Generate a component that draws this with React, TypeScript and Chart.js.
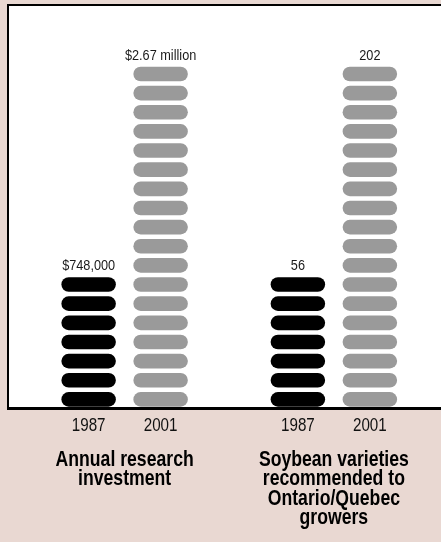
import React, { useEffect, useRef } from "react";
import { Chart, registerables } from "chart.js";

Chart.register(...registerables);

// Groups shown along the bottom, each with its two years
const GROUP_TITLES: string[][] = [
  ["Annual research", "investment"],
  ["Soybean varieties", "recommended to", "Ontario/Quebec", "growers"],
];
const YEARS = ["1987", "2001"];

// Series values (1987, 2001)
const RESEARCH_INVESTMENT = [748000, 2670000]; // dollars per year
const SOYBEAN_VARIETIES = [56, 202]; // recommended varieties

// Printed value labels
const INVESTMENT_LABELS = ["$748,000", "$2.67 million"];
const VARIETY_LABELS = ["56", "202"];

// Pictogram: the 1987 and 2001 stacks hold this many pills; the panel holds SLOTS
const STACK_PILLS = [7, 18];
const SLOTS = 21;

const YEAR_COLORS = ["#000000", "#9a9a9a"];
const PAGE_BG = "#e9d8d2";
const FONT = '"Liberation Sans", Arial, sans-serif';
const NARROW = 0.82;

// Value-axis range that makes each stack land on its pill count
function axisRange(values: number[]) {
  const unit = (values[1] - values[0]) / (STACK_PILLS[1] - STACK_PILLS[0]);
  const min = values[0] - STACK_PILLS[0] * unit;
  return { min, max: min + SLOTS * unit };
}

function narrowText(
  ctx: CanvasRenderingContext2D,
  text: string,
  x: number,
  y: number,
  size: number,
  bold: boolean,
  color: string
) {
  ctx.save();
  ctx.translate(x, y);
  ctx.scale(NARROW, 1);
  ctx.font = `${bold ? "bold " : ""}${size}px ${FONT}`;
  ctx.fillStyle = color;
  ctx.textAlign = "center";
  ctx.textBaseline = "alphabetic";
  ctx.fillText(text, 0, 0);
  ctx.restore();
}

function pill(ctx: CanvasRenderingContext2D, x: number, y: number, w: number, h: number) {
  const r = h / 2;
  ctx.beginPath();
  ctx.moveTo(x + r, y);
  ctx.lineTo(x + w - r, y);
  ctx.arc(x + w - r, y + r, r, -Math.PI / 2, Math.PI / 2);
  ctx.lineTo(x + r, y + h);
  ctx.arc(x + r, y + r, r, Math.PI / 2, (3 * Math.PI) / 2);
  ctx.closePath();
  ctx.fill();
}

const pictogramPlugin = {
  id: "pictogram",
  beforeDraw(chart: any) {
    const { ctx, chartArea: a } = chart;
    const left = a.left - 13;
    const right = chart.width;
    ctx.save();
    ctx.fillStyle = "#ffffff";
    ctx.fillRect(left, a.top - 1, right - left, a.bottom - a.top + 1);
    ctx.fillStyle = "#000000";
    ctx.fillRect(left, a.top - 1, right - left, 2);
    ctx.fillRect(left, a.top - 1, 2, a.bottom - a.top + 1);
    ctx.restore();
  },
  beforeDatasetsDraw(chart: any) {
    const { ctx, chartArea: a } = chart;
    const pitch = (a.bottom - a.top) / SLOTS;
    const pillH = pitch * 0.765;
    ctx.save();
    chart.data.datasets.forEach((ds: any, di: number) => {
      const meta = chart.getDatasetMeta(di);
      meta.data.forEach((el: any, i: number) => {
        if (ds.data[i] == null) return;
        const { x, y, base, width } = el.getProps(["x", "y", "base", "width"], true);
        const count = Math.round((base - y) / pitch);
        ctx.fillStyle = ds.backgroundColor;
        for (let k = 0; k < count; k++) {
          pill(ctx, x - width / 2, base - k * pitch - pillH - 0.3, width, pillH);
        }
        const top = base - (count - 1) * pitch - pillH;
        narrowText(ctx, ds.valueLabels[i], x, top - 7, 15.5, false, "#1a1a1a");
        narrowText(ctx, ds.label, x, a.bottom + 24, 18.5, false, "#111111");
      });
    });
    ctx.restore();
    return false;
  },
  afterDraw(chart: any) {
    const { ctx, chartArea: a, scales } = chart;
    ctx.save();
    ctx.fillStyle = "#000000";
    ctx.fillRect(a.left - 13, a.bottom, chart.width - a.left + 13, 3);
    ctx.restore();
    GROUP_TITLES.forEach((lines, gi) => {
      const x = scales.x.getPixelForValue(gi);
      lines.forEach((line, li) => {
        narrowText(ctx, line, x, a.bottom + 59 + li * 19.3, 21.5, true, "#000000");
      });
    });
  },
};

export default function App() {
  const canvasRef = useRef<HTMLCanvasElement | null>(null);

  useEffect(() => {
    document.body.style.margin = "0";
    document.body.style.background = PAGE_BG;
    const money = axisRange(RESEARCH_INVESTMENT);
    const count = axisRange(SOYBEAN_VARIETIES);
    const chart = new Chart(canvasRef.current as HTMLCanvasElement, {
      type: "bar",
      data: {
        labels: GROUP_TITLES.map((t) => t.join(" ")),
        datasets: [
          {
            label: YEARS[0],
            data: [RESEARCH_INVESTMENT[0], null],
            yAxisID: "yMoney",
            base: money.min,
            backgroundColor: YEAR_COLORS[0],
            valueLabels: [INVESTMENT_LABELS[0], null],
          },
          {
            label: YEARS[1],
            data: [RESEARCH_INVESTMENT[1], null],
            yAxisID: "yMoney",
            base: money.min,
            backgroundColor: YEAR_COLORS[1],
            valueLabels: [INVESTMENT_LABELS[1], null],
          },
          {
            label: YEARS[0],
            data: [null, SOYBEAN_VARIETIES[0]],
            yAxisID: "yCount",
            base: count.min,
            backgroundColor: YEAR_COLORS[0],
            valueLabels: [null, VARIETY_LABELS[0]],
          },
          {
            label: YEARS[1],
            data: [null, SOYBEAN_VARIETIES[1]],
            yAxisID: "yCount",
            base: count.min,
            backgroundColor: YEAR_COLORS[1],
            valueLabels: [null, VARIETY_LABELS[1]],
          },
        ] as any,
      },
      options: {
        animation: false,
        responsive: false,
        layout: { padding: { left: 20, right: 2.5, top: 5, bottom: 135 } },
        datasets: {
          bar: { skipNull: true, categoryPercentage: 0.688, barPercentage: 0.757 },
        } as any,
        plugins: { legend: { display: false }, tooltip: { enabled: false } },
        scales: {
          x: { type: "category", display: false, offset: true },
          yMoney: { type: "linear", display: false, min: money.min, max: money.max },
          yCount: { type: "linear", display: false, min: count.min, max: count.max },
        },
      },
      plugins: [pictogramPlugin],
    });
    return () => chart.destroy();
  }, []);

  return (
    <div style={{ width: 441, height: 542, background: PAGE_BG }}>
      <canvas ref={canvasRef} width={441} height={542} style={{ display: "block" }} />
    </div>
  );
}
